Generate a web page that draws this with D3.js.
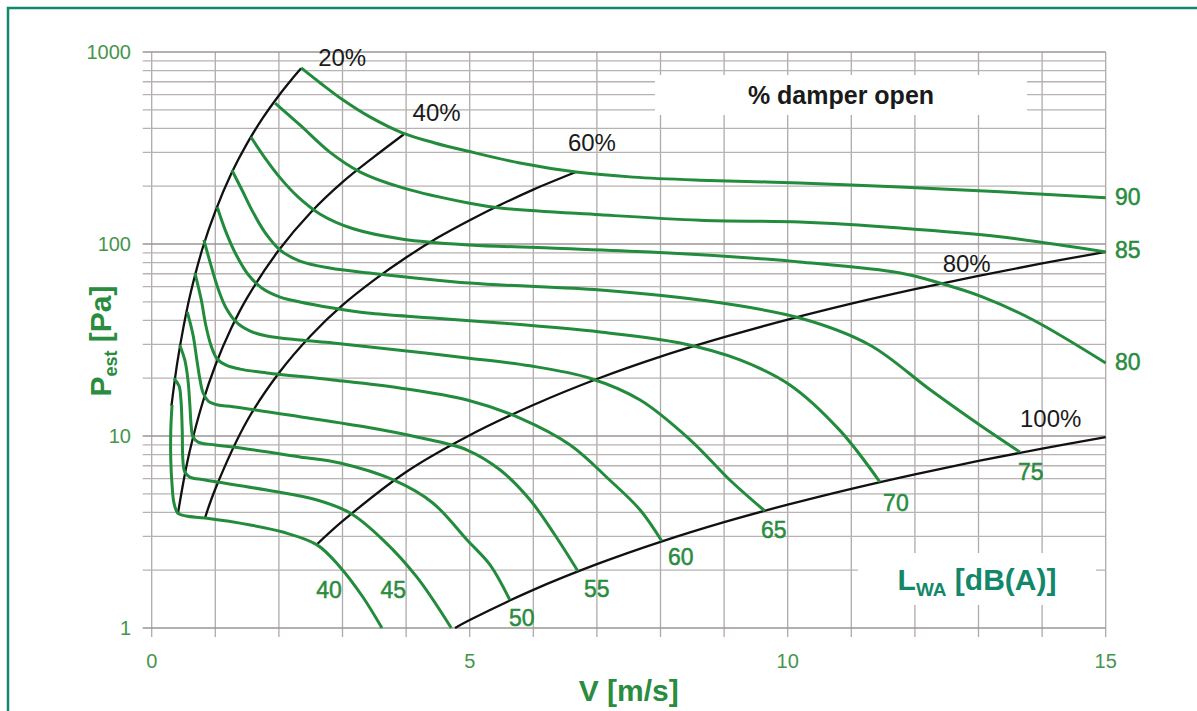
<!DOCTYPE html>
<html>
<head>
<meta charset="utf-8">
<script src="https://d3js.org/d3.v7.min.js"></script>
<style>
  body { margin:0; background:#fff; }
  text { font-family: "Liberation Sans", Arial, sans-serif; }
</style>
</head>
<body>
<script>
// ---- data (V in m/s, P in Pa) ----
var vTicks = [0, 5, 10, 15];
var pTicks = [1, 10, 100, 1000];

// damper opening curves
var damper20 = [[0.31,14.3],[0.4,23.8],[0.5,37],[0.6,53.5],[0.8,95],[1.0,148],[1.25,232],[1.5,334],[1.75,455],[2.0,594],[2.2,719],[2.35,822]];
var damper40 = [[0.41,3.9],[0.5,5.8],[0.6,8.4],[0.8,14.9],[1.0,23.3],[1.25,36.4],[1.5,52.4],[2.0,93],[2.5,146],[3.0,210],[3.5,285],[3.96,372]];
var damper60 = [[0.84,3.76],[1.0,5.3],[1.5,12],[2.0,21.3],[2.5,33.3],[3.0,48],[3.5,65],[4.0,85],[4.5,108],[5.0,133],[5.5,161],[6.0,192],[6.67,237]];
var damper80 = [[2.6,2.73],[3,3.6],[4,6.5],[5,10.1],[6,14.5],[7,19.8],[8,25.9],[9,32.7],[10,40.4],[11,48.9],[12,58.2],[13,68.3],[14,79.2],[15,90.9]];
var damper100 = [[4.77,1.0],[5,1.1],[6,1.58],[7,2.15],[8,2.81],[9,3.56],[10,4.39],[11,5.31],[12,6.32],[13,7.42],[14,8.6],[15,9.88]];
var damperNames = ["20%", "40%", "60%", "80%", "100%"];

// sound power level curves LWA [dB(A)]
var lwa40 = [[0.32,14.5],[0.30,10.7],[0.30,7.5],[0.32,5.56],[0.35,4.48],[0.41,3.97],[0.54,3.83],[0.84,3.74],[1.55,3.44],[2.06,3.16],[2.6,2.71],[2.96,2.08],[3.32,1.45],[3.62,1.0]];
var lwa45 = [[0.35,20.0],[0.43,18.2],[0.46,15.4],[0.48,10.7],[0.49,7.5],[0.52,6.49],[0.6,6.11],[0.84,5.9],[1.81,5.23],[2.6,4.64],[3.12,3.97],[3.64,2.87],[4.17,1.84],[4.71,1.0]];
var lwa50 = [[0.44,29.8],[0.52,24.9],[0.57,19.6],[0.6,14.5],[0.62,11.4],[0.65,9.88],[0.73,9.3],[1.0,8.98],[1.28,8.76],[2.33,7.78],[2.96,7.23],[3.8,5.9],[4.42,4.48],[4.96,2.87],[5.32,2.13],[5.63,1.4]];
var lwa55 = [[0.56,44.2],[0.65,33.6],[0.71,24.9],[0.76,19.6],[0.81,16.7],[0.89,15.2],[1.04,14.5],[1.28,14.2],[2.33,12.6],[3.39,11.1],[4.17,9.88],[4.96,8.45],[5.48,6.65],[5.95,4.64],[6.34,3.05],[6.7,1.98]];
var lwa60 = [[0.68,70.6],[0.78,51.1],[0.85,37.8],[0.93,29.8],[1.03,25.2],[1.17,23.4],[1.39,22.3],[1.81,21.3],[2.85,19.6],[3.9,17.8],[4.96,15.4],[5.79,12.4],[6.58,8.98],[7.2,5.9],[7.68,4.12],[8.02,2.84]];
var lwa65 = [[0.82,105],[0.93,77.8],[1.04,59.0],[1.17,46.4],[1.33,39.2],[1.55,35.2],[1.81,33.2],[2.33,31.6],[2.85,30.5],[3.9,28.0],[4.96,25.5],[5.95,23.2],[6.89,20.0],[7.68,15.4],[8.47,9.53],[9.09,5.9],[9.64,4.07]];
var lwa70 = [[1.03,156],[1.17,115],[1.33,87.6],[1.51,69.8],[1.73,59.0],[2.02,52.9],[2.33,49.9],[2.85,46.4],[3.39,43.7],[4.42,41.2],[5.48,38.8],[7.05,34.8],[8.31,30.5],[9.25,24.9],[10.04,18.4],[10.82,10.7],[11.45,5.76]];
var lwa75 = [[1.26,243],[1.42,191],[1.59,147],[1.78,115],[2.02,93.0],[2.33,81.5],[2.8,75.0],[3.43,70.6],[5.0,62.6],[7.05,57.6],[8.62,51.1],[10.19,41.2],[11.29,29.8],[12.24,17.4],[13.02,11.4],[13.65,8.25]];
var lwa80 = [[1.56,361],[1.78,281],[2.02,221],[2.3,176],[2.65,143],[3.17,120],[3.95,106],[5.0,98.9],[6.26,95.3],[7.83,90.9],[9.41,84.6],[10.19,80.6],[11.77,70.6],[12.39,62.6],[13.07,52.9],[13.86,40.2],[15,24.0]];
var lwa85 = [[1.94,542],[2.33,417],[2.8,301],[3.28,237],[3.95,196],[5.0,163],[5.48,154],[7.05,142],[8.62,133],[10.19,130],[11.77,121],[13.34,109],[15,90.9]];
var lwa90 = [[2.35,826],[2.65,690],[3.01,562],[3.43,459],[3.95,378],[4.45,336],[4.96,305],[5.79,264],[6.67,237],[7.57,223],[8.62,215],[10.19,208],[11.77,198],[13.34,187],[15,174]];
var lwaNames = ["40", "45", "50", "55", "60", "65", "70", "75", "80", "85", "90"];

// ---- layout ----
var width = 1197, height = 711;
var green = "#228b3c", labelGreen = "#2a8c3e", teal = "#13876a";

var x = d3.scaleLinear().domain([0, 15]).range([151.7, 1105.7]);
var y = d3.scaleLog().domain([1, 1000]).range([628, 52]);

var svg = d3.select("body").append("svg")
    .attr("width", width)
    .attr("height", height);

svg.append("rect").attr("width", width).attr("height", height).attr("fill", "#fff");

// frame
svg.append("rect")
    .attr("x", 8).attr("y", 8)
    .attr("width", width + 20).attr("height", height + 20)
    .attr("fill", "none").attr("stroke", teal).attr("stroke-width", 2.5);

// grid
var grid = svg.append("g");
grid.selectAll("line.v")
    .data(d3.range(0, 16))
    .enter().append("line")
    .attr("x1", function (d) { return x(d); })
    .attr("x2", function (d) { return x(d); })
    .attr("y1", y(1000)).attr("y2", y(1) + 9)
    .attr("stroke", "#b0aaaa").attr("stroke-width", 1.3);

var minor = [];
[1, 10, 100].forEach(function (dec) {
    for (var i = 1; i <= 9; i++) minor.push(dec * i);
});
minor.push(1000);
grid.selectAll("line.h")
    .data(minor)
    .enter().append("line")
    .attr("x1", x(0) - 9).attr("x2", x(15))
    .attr("y1", function (d) { return y(d); })
    .attr("y2", function (d) { return y(d); })
    .attr("stroke", function (d) { return pTicks.indexOf(d) >= 0 ? "#9c9696" : "#b8b2b2"; })
    .attr("stroke-width", 1.3);

// tick labels
svg.selectAll("text.yt")
    .data(pTicks)
    .enter().append("text")
    .attr("x", 131)
    .attr("y", function (d) { return y(d); })
    .attr("dy", "0.36em")
    .attr("text-anchor", "end")
    .attr("font-size", 20)
    .attr("fill", "#46954c")
    .text(function (d) { return d; });

svg.selectAll("text.xt")
    .data(vTicks)
    .enter().append("text")
    .attr("x", function (d) { return x(d); })
    .attr("y", 661)
    .attr("dy", "0.36em")
    .attr("text-anchor", "middle")
    .attr("font-size", 20)
    .attr("fill", "#46954c")
    .text(function (d) { return d; });

// white boxes
svg.append("rect").attr("x", 655).attr("y", 75).attr("width", 372).attr("height", 40).attr("fill", "#fff");
svg.append("rect").attr("x", 858).attr("y", 553).attr("width", 238).attr("height", 52).attr("fill", "#fff");

var line = d3.line()
    .x(function (d) { return x(d[0]); })
    .y(function (d) { return y(d[1]); })
    .curve(d3.curveCatmullRom.alpha(0.5));

// damper curves
var dampers = [damper20, damper40, damper60, damper80, damper100];
svg.append("g").selectAll("path")
    .data(dampers)
    .enter().append("path")
    .attr("d", line)
    .attr("fill", "none")
    .attr("stroke", "#111")
    .attr("stroke-width", 2.3);

// sound curves
var lwas = [lwa40, lwa45, lwa50, lwa55, lwa60, lwa65, lwa70, lwa75, lwa80, lwa85, lwa90];
svg.append("g").selectAll("path")
    .data(lwas)
    .enter().append("path")
    .attr("d", line)
    .attr("fill", "none")
    .attr("stroke", green)
    .attr("stroke-width", 3)
    .attr("stroke-linejoin", "round");

// labels anchored to curve ends (pixel offsets)
var damperOffsets = [[41, -11], [33, -22], [16, -30], [-139, 11], [-55, -19]];
svg.append("g").selectAll("text")
    .data(dampers)
    .enter().append("text")
    .attr("x", function (d, i) { return x(d[d.length - 1][0]) + damperOffsets[i][0]; })
    .attr("y", function (d, i) { return y(d[d.length - 1][1]) + damperOffsets[i][1]; })
    .attr("dy", "0.36em")
    .attr("text-anchor", "middle")
    .attr("font-size", 24)
    .attr("fill", "#1a1a1a")
    .text(function (d, i) { return damperNames[i]; });

var lwaOffsets = [[-53, -38], [-58, -38], [12, 18], [19, 18], [19, 16], [9, 19], [16, 21], [11, 20], [22, -1], [22, -2], [22, -1]];
svg.append("g").selectAll("text")
    .data(lwas)
    .enter().append("text")
    .attr("x", function (d, i) { return x(d[d.length - 1][0]) + lwaOffsets[i][0]; })
    .attr("y", function (d, i) { return y(d[d.length - 1][1]) + lwaOffsets[i][1]; })
    .attr("dy", "0.36em")
    .attr("text-anchor", "middle")
    .attr("font-size", 23)
    .attr("fill", labelGreen)
    .attr("stroke", labelGreen)
    .attr("stroke-width", 0.5)
    .text(function (d, i) { return lwaNames[i]; });

// box texts
svg.append("text")
    .attr("x", 841).attr("y", 95).attr("dy", "0.36em")
    .attr("text-anchor", "middle")
    .attr("font-size", 25).attr("font-weight", "bold")
    .attr("fill", "#1a1a1a")
    .text("% damper open");

var lw = svg.append("text")
    .attr("x", 977).attr("y", 579).attr("dy", "0.36em")
    .attr("text-anchor", "middle")
    .attr("font-size", 30).attr("font-weight", "bold")
    .attr("fill", teal);
lw.append("tspan").text("L");
lw.append("tspan").attr("font-size", 19).attr("dy", 6).text("WA");
lw.append("tspan").attr("dy", -6).text(" [dB(A)]");

// axis titles
svg.append("text")
    .attr("x", x(7.5)).attr("y", 690).attr("dy", "0.36em")
    .attr("text-anchor", "middle")
    .attr("font-size", 30).attr("font-weight", "bold")
    .attr("fill", labelGreen)
    .text("V [m/s]");

var yt = svg.append("text")
    .attr("transform", "translate(100,341) rotate(-90)")
    .attr("dy", "0.36em")
    .attr("text-anchor", "middle")
    .attr("font-size", 30).attr("font-weight", "bold")
    .attr("fill", labelGreen);
yt.append("tspan").text("P");
yt.append("tspan").attr("font-size", 18).attr("dy", 6).text("est");
yt.append("tspan").attr("dy", -6).text(" [Pa]");
</script>
</body>
</html>
